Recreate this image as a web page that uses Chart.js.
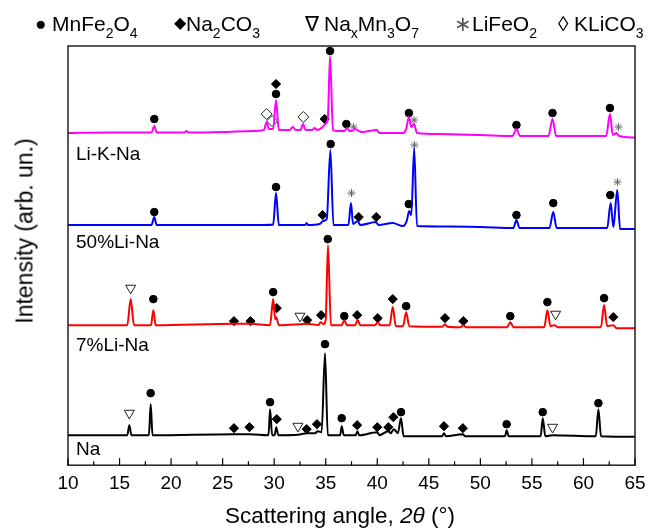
<!DOCTYPE html>
<html>
<head>
<meta charset="utf-8">
<script src="https://cdn.jsdelivr.net/npm/chart.js@4.4.0/dist/chart.umd.min.js"></script>
<style>
  body { margin: 0; background: #fff; font-family: "Liberation Sans", Arial, sans-serif; }
  #wrap { position: relative; width: 655px; height: 529px; }
  #xrd { position: absolute; left: 0; top: 0; }
  .lg { position: absolute; top: 12px; font-size: 21px; line-height: 24px; white-space: nowrap; color: #000; }
  .lg sub { font-size: 14px; vertical-align: -7px; line-height: 0; }
  #xtitle { position: absolute; left: 0; width: 680px; top: 503px; text-align: center; font-size: 22.5px; }
  #ytitle { position: absolute; left: 25px; top: 231px; font-size: 23px; white-space: nowrap;
            transform: translate(-50%, -50%) rotate(-90deg); }
</style>
</head>
<body>
<div id="wrap">
  <canvas id="xrd" width="655" height="529"></canvas>
  <div class="lg" style="left:35px;font-size:19px;top:12px">●</div>
  <div class="lg" style="left:52px">MnFe<sub>2</sub>O<sub>4</sub></div>
  <div class="lg" style="left:174px;font-size:16px;top:11px">◆</div>
  <div class="lg" style="left:186px">Na<sub>2</sub>CO<sub>3</sub></div>
  <div class="lg" style="left:305px">∇</div>
  <div class="lg" style="left:324px">Na<sub>x</sub>Mn<sub>3</sub>O<sub>7</sub></div>
  <div class="lg" style="left:454px;color:#555">∗</div>
  <div class="lg" style="left:472px">LiFeO<sub>2</sub></div>
  <div class="lg" style="left:558px">◊</div>
  <div class="lg" style="left:574px">KLiCO<sub>3</sub></div>
  <div id="ytitle">Intensity (arb. un.)</div>
  <div id="xtitle">Scattering angle, <i>2θ</i> (°)</div>
</div>
<script>
// tick labels of the 2theta axis
let xTickLabels = [10, 15, 20, 25, 30, 35, 40, 45, 50, 55, 60, 65]

// sample names and vertical offsets of the stacked patterns
let traceNames = ["Li-K-Na", "50%Li-Na", "7%Li-Na", "Na"]
let traceOffset = [332, 240, 140, 30]
let traceColor = ["#ff00ff", "#0000ff", "#ff0000", "#000000"]

// Li-K-Na pattern
let likAngle = [10, 14, 18.1, 18.37, 18.6, 21.3, 21.5, 21.7, 25, 28, 29.0, 29.27, 29.5, 29.9, 30.18, 30.45,
  31.5, 31.8, 32.1, 32.55, 32.8, 33.05, 33.7, 33.9, 34.2, 34.7, 34.95, 35.2, 35.42, 35.7, 36.3, 36.8, 37.05, 37.3,
  37.6, 37.8, 38.5, 39.95, 40.2, 42.5, 42.8, 43.07, 43.3, 43.57, 43.85, 46, 50, 53.1, 53.5, 53.85, 56.6, 57.0,
  57.35, 62.2, 62.57, 62.85, 63.2, 63.45, 65]
let likInt = [0, 0.5, 0.5, 7, 0.5, 0.5, 2, 0.5, 1, 2, 3, 11, 4, 4, 33, 3,
  3, 6, 3, 3, 9, 3, 3, 5, 3, 6, 9, 14, 77, 3, 2, 2, 5, 2,
  2, 4, 1, 3, 0, 0, 4, 16, 6, 9, 0, -1, -2, -3, 4, -3, -3, 14,
  -3, -3, 19, -2, 0, -3, -4.5]

// 50%Li-Na pattern
let li50Angle = [10, 18.1, 18.37, 18.6, 25, 29.0, 29.9, 30.18, 30.45, 33.0, 33.15, 33.3, 34.4, 34.75, 35.1, 35.45,
  35.75, 37.2, 37.45, 37.65, 38.1, 38.35, 39.9, 40.1, 41.5, 42.5, 42.85, 43.1, 43.3, 43.58, 43.85, 47, 50,
  53.2, 53.5, 53.8, 56.7, 57.07, 57.4, 62.3, 62.64, 62.9, 63.28, 63.55, 65]
let li50Int = [0, 0, 8, 0, 0, 0, 0.5, 32, 0, 0, 2, 0, 1, 4, 6, 75,
  0, 0, 22, 1, 4, 0, 3, 0, 2, -1, 4, 14, 10, 77, -1, -1.5, -2,
  -3, 5, -3, -3, 13, -3, -3, 22, -2, 35, -4, -4]

// 7%Li-Na pattern
let li7Angle = [10, 15.75, 16.08, 16.4, 18.05, 18.28, 18.5, 26.1, 27.7, 29.6, 29.9, 30.1, 30.2, 30.45, 32.5, 33.2,
  34.3, 34.5, 34.8, 35.0, 35.22, 35.5, 36.55, 36.8, 37.05, 37.85, 38.1, 38.35, 39.8, 40.04, 40.3, 41.2, 41.5,
  41.8, 42.5, 42.8, 43.1, 46.3, 46.57, 46.8, 48.1, 48.35, 48.6, 52.6, 52.9, 53.2, 56.2, 56.5, 56.8, 57.2, 57.5,
  61.7, 62.0, 62.3, 62.9, 63.2, 65]
let li7Int = [0, 0, 26, 0, 0, 15, 0, 1.5, 1.5, 0, 26, 6, 8, 0, 1, 1.5,
  0, 3, 1, 6, 80, 0, 0, 5, 0, 0, 5, 0, 0, 3, 0, 0, 18,
  -1, -1, 13, -1, -1.5, 1, -1.5, -2, 0, -2, -2, 3, -2, -2, 15, -1, 0, -2,
  -2, 20, -1, 0, -3, -3]

// Na pattern
let naAngle = [10, 15.75, 15.95, 16.15, 17.85, 18.02, 18.2, 26.1, 27.6, 29.45, 29.6, 29.8, 30.05, 30.2, 30.4, 32.3,
  33.2, 34.0, 34.2, 34.6, 34.93, 35.2, 36.4, 36.55, 36.75, 37.9, 38.07, 38.25, 40.0, 40.2, 41.07, 41.3, 41.6,
  42.0, 42.3, 42.55, 46.3, 46.47, 46.65, 48.3, 48.5, 52.4, 52.55, 52.75, 55.85, 56.05, 56.3, 57.0, 61.2, 61.45,
  61.7, 65]
let naInt = [0, 0, 10, 0, 0, 31, 0, 1, 1, 0, 26, 0, 0, 8, 0, 0.5,
  2, 2, 4, 3, 82, 0, 0, 9, 0, 0, 4, 0, 3, 0, 4, 2, 6,
  2, 17, -1, -1, 2, -1, 1, -1, -1, 5, -1, -1, 17, -1, 0, -1, 26,
  -1, -1.5]

// phase markers (angle, height on the stacked scale)
let mnfeAngle = [18.37, 30.18, 35.42, 37.0, 43.07, 53.5, 57.0, 62.57,
  18.37, 30.18, 35.48, 43.05, 53.5, 57.07, 62.6,
  18.28, 29.9, 35.2, 36.8, 42.8, 52.9, 56.5, 62.0,
  18.02, 29.6, 34.93, 36.55, 42.3, 52.55, 56.05, 61.45]
let mnfeY = [346, 371, 414, 341, 352, 340, 352, 357,
  253, 278, 321, 261, 250, 262, 270,
  166, 173, 226, 149, 159, 149, 163, 167,
  72, 63, 121, 47, 53, 41, 53, 62]

let naco3Angle = [30.18, 34.9,
  34.7, 38.2, 39.9,
  26.1, 27.7, 30.25, 33.2, 34.55, 38.05, 40.04, 41.5, 46.57, 48.35, 62.9,
  26.1, 27.6, 30.25, 33.15, 34.15, 38.05, 40.0, 41.07, 41.56, 46.47, 48.3]
let naco3Y = [381, 346,
  250, 248, 248,
  144, 144, 157, 145, 150, 150, 147, 166, 147, 144, 148,
  37, 38, 46, 36, 41, 40, 38, 38, 48, 39, 37]

let namnoAngle = [16.08, 32.5, 57.3, 15.95, 32.3, 57.0]
let namnoY = [177, 149, 151, 52, 39, 38]

let lifeoAngle = [37.7, 43.57, 63.4, 37.5, 43.6, 63.3]
let lifeoY = [338, 345, 338, 272, 320, 283]

let klicoAngle = [29.27, 29.8, 32.83]
let klicoY = [351, 344, 348]

function toPoints(angles, values, offset) {
  let pts = []
  for (let i = 0; i < angles.length; i++) {
    pts.push({ x: angles[i], y: values[i] + offset })
  }
  return pts
}

let patterns = [likInt, li50Int, li7Int, naInt]
let patternAngles = [likAngle, li50Angle, li7Angle, naAngle]

let datasets = []
for (let i = 0; i < patterns.length; i++) {
  datasets.push({
    type: 'line',
    label: traceNames[i],
    data: toPoints(patternAngles[i], patterns[i], traceOffset[i]),
    borderColor: traceColor[i],
    borderWidth: 2,
    pointRadius: 0,
    cubicInterpolationMode: 'monotone'
  })
}

function markerSet(label, angles, ys, style, opts) {
  return Object.assign({
    type: 'scatter',
    label: label,
    data: toPoints(angles, ys, 0),
    pointStyle: style,
    pointRadius: 4,
    backgroundColor: '#000',
    borderColor: '#000',
    borderWidth: 1
  }, opts)
}

datasets.push(markerSet('MnFe2O4', mnfeAngle, mnfeY, 'circle', { pointRadius: 3.8 }))
datasets.push(markerSet('Na2CO3', naco3Angle, naco3Y, 'rectRot', { pointRadius: 4.6 }))
datasets.push(markerSet('NaxMn3O7', namnoAngle, namnoY, 'triangle', { pointRadius: 5.8, rotation: 180, backgroundColor: '#fff', borderColor: '#222' }))
datasets.push(markerSet('LiFeO2', lifeoAngle, lifeoY, 'star', { pointRadius: 4, borderColor: '#666' }))
datasets.push(markerSet('KLiCO3', klicoAngle, klicoY, 'rectRot', { pointRadius: 5.5, backgroundColor: '#fff', borderColor: '#222' }))

// frame, inward ticks and the sample names
let framePlugin = {
  id: 'frame',
  afterDraw(chart) {
    let c = chart.ctx, a = chart.chartArea, xs = chart.scales.x, ys = chart.scales.y
    c.save()
    c.strokeStyle = '#222'
    c.lineWidth = 1.5
    c.strokeRect(a.left, a.top, a.right - a.left, a.bottom - a.top)
    c.lineWidth = 1.2
    c.strokeStyle = '#000'
    for (let v = 10; v <= 65; v += 2.5) {
      let px = xs.getPixelForValue(v)
      let len = (v % 5 === 0) ? 7 : 4
      c.beginPath()
      c.moveTo(px, a.bottom)
      c.lineTo(px, a.bottom - len)
      c.stroke()
    }
    c.fillStyle = '#000'
    c.font = '19px "Liberation Sans", Arial, sans-serif'
    c.textBaseline = 'middle'
    let labelY = [310, 222, 119, 15]
    for (let i = 0; i < traceNames.length; i++) {
      c.fillText(traceNames[i], a.left + 8, ys.getPixelForValue(labelY[i]))
    }
    c.restore()
  }
}

let ctx = document.getElementById('xrd').getContext('2d')
let myChart = new Chart(ctx, {
  data: { datasets: datasets },
  options: {
    responsive: false,
    animation: false,
    layout: { padding: { left: 68, right: 20, top: 46, bottom: 27 } },
    plugins: { legend: { display: false }, tooltip: { enabled: false } },
    scales: {
      x: {
        type: 'linear',
        min: 10,
        max: 65,
        border: { display: false },
        grid: { display: false, drawTicks: false },
        ticks: {
          stepSize: 2.5,
          autoSkip: false,
          maxRotation: 0,
          padding: 7,
          color: '#000',
          font: { size: 19, family: '"Liberation Sans", Arial, sans-serif' },
          callback: function (v) { return xTickLabels.indexOf(v) >= 0 ? String(v) : '' }
        }
      },
      y: { display: false, min: 0, max: 419 }
    }
  },
  plugins: [framePlugin]
})
</script>
</body>
</html>
